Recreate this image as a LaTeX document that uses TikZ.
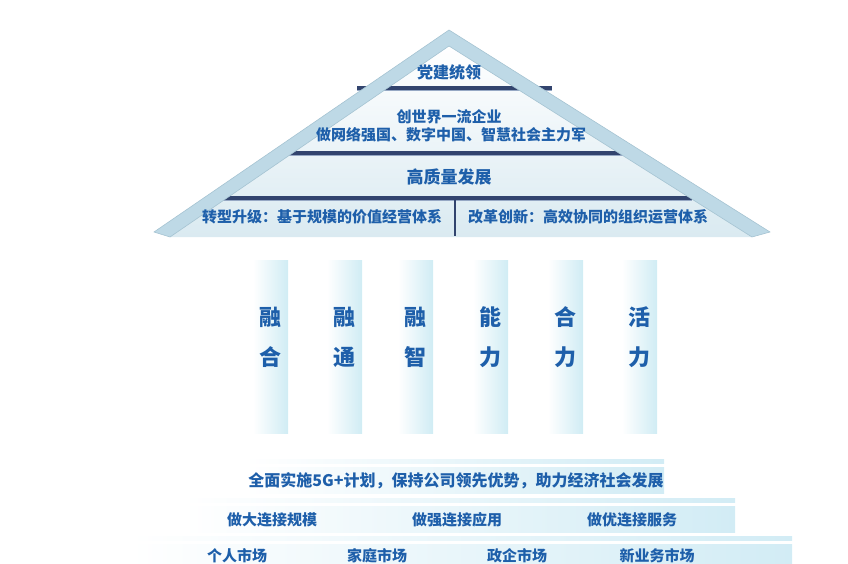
\documentclass[tikz,border=0pt]{standalone}
\usepackage{fontspec}
\setmainfont{Noto Sans CJK SC}
\usepackage{tikz}
\definecolor{roofband}{RGB}{190, 217, 230}
\definecolor{roofedge}{RGB}{165, 195, 210}
\definecolor{roofin}{RGB}{218, 234, 241}
\definecolor{beam}{RGB}{50, 68, 110}
\definecolor{beamlow}{RGB}{150, 168, 196}
\definecolor{inkblue}{RGB}{30, 95, 170}
\definecolor{pillarblue}{RGB}{208, 236, 244}
\definecolor{stepblue}{RGB}{210, 236, 245}

\begin{document}
\begin{tikzpicture}[x=1pt, y=-1pt,
	rooftxt/.style={text=inkblue, inner sep=0pt, font=\bfseries\fontsize{15}{17}\selectfont},
	pillartxt/.style={text=inkblue, inner sep=0pt, font=\bfseries\fontsize{22}{24}\selectfont},
	steptxt/.style={text=inkblue, inner sep=0pt, font=\bfseries\fontsize{15}{17}\selectfont}]
	\useasboundingbox (0,0) rectangle (848,564);

	% Roof: inner face
	\shade[top color=white, bottom color=roofin] (170,237) -- (449,46) -- (752,237) -- cycle;
	% Beams under the roof band
	\fill[beam] (357,86) rectangle (552,90);
	\fill[beamlow] (357,90) rectangle (552,91);
	\fill[beam] (279,151) rectangle (627,155);
	\fill[beamlow] (279,155) rectangle (627,156);
	\fill[beam] (218,196) rectangle (692,200);
	\fill[beamlow] (218,200) rectangle (692,201);
	\draw[beam, line width=1.6pt] (455,200) -- (455,236);
	% Roof band
	\fill[roofband, draw=roofedge, line width=0.6pt]
		(154,232) -- (449,30) -- (770,232) -- (752,237) -- (449,46) -- (170,237) -- cycle;

	% Roof labels
	\node[rooftxt, font=\bfseries\fontsize{16}{18}\selectfont] (lead) at (449,72) {党建统领};
	\node[rooftxt] (goal) at (449,117) {创世界一流企业};
	\node[rooftxt] (army) at (451,135) {做网络强国、数字中国、智慧社会主力军};
	\node[rooftxt, font=\bfseries\fontsize{17}{19}\selectfont] (hq) at (449,177) {高质量发展};
	\node[rooftxt] (trans) at (322,217) {转型升级：基于规模的价值经营体系};
	\node[rooftxt] (reform) at (588,217) {改革创新：高效协同的组织运营体系};

	% Pillars
	\foreach \x/\a/\b [count=\i] in {253/融/合, 327/融/通, 398/融/智, 473/能/力, 548/合/力, 622/活/力} {
		\shade[left color=white, right color=pillarblue] (\x,260) rectangle (\x+35,433);
		\node[pillartxt] (p\i a) at (\x+17.5,317) {\a};
		\node[pillartxt] (p\i b) at (\x+17.5,357) {\b};
	}

	% Steps
	\shade[left color=white, right color=stepblue] (245,459) rectangle (664,463);
	\shade[left color=white, right color=stepblue] (245,467) rectangle (664,493);
	\shade[left color=white, right color=stepblue] (183,498) rectangle (735,502);
	\shade[left color=white, right color=stepblue] (183,506) rectangle (735,532);
	\shade[left color=white, right color=stepblue] (130,536) rectangle (792,540);
	\shade[left color=white, right color=stepblue] (130,544) rectangle (792,566);

	% Step labels
	\node[steptxt, font=\bfseries\fontsize{16}{18}\selectfont] (plan) at (456,481) {全面实施5G+计划，保持公司领先优势，助力经济社会发展};
	\node[steptxt] (scale) at (272,520) {做大连接规模};
	\node[steptxt] (apply) at (457,520) {做强连接应用};
	\node[steptxt] (serve) at (632,520) {做优连接服务};
	\node[steptxt] (mkt1) at (237,556) {个人市场};
	\node[steptxt] (mkt2) at (377,556) {家庭市场};
	\node[steptxt] (mkt3) at (517,556) {政企市场};
	\node[steptxt] (mkt4) at (657,556) {新业务市场};
\end{tikzpicture}
\end{document}
